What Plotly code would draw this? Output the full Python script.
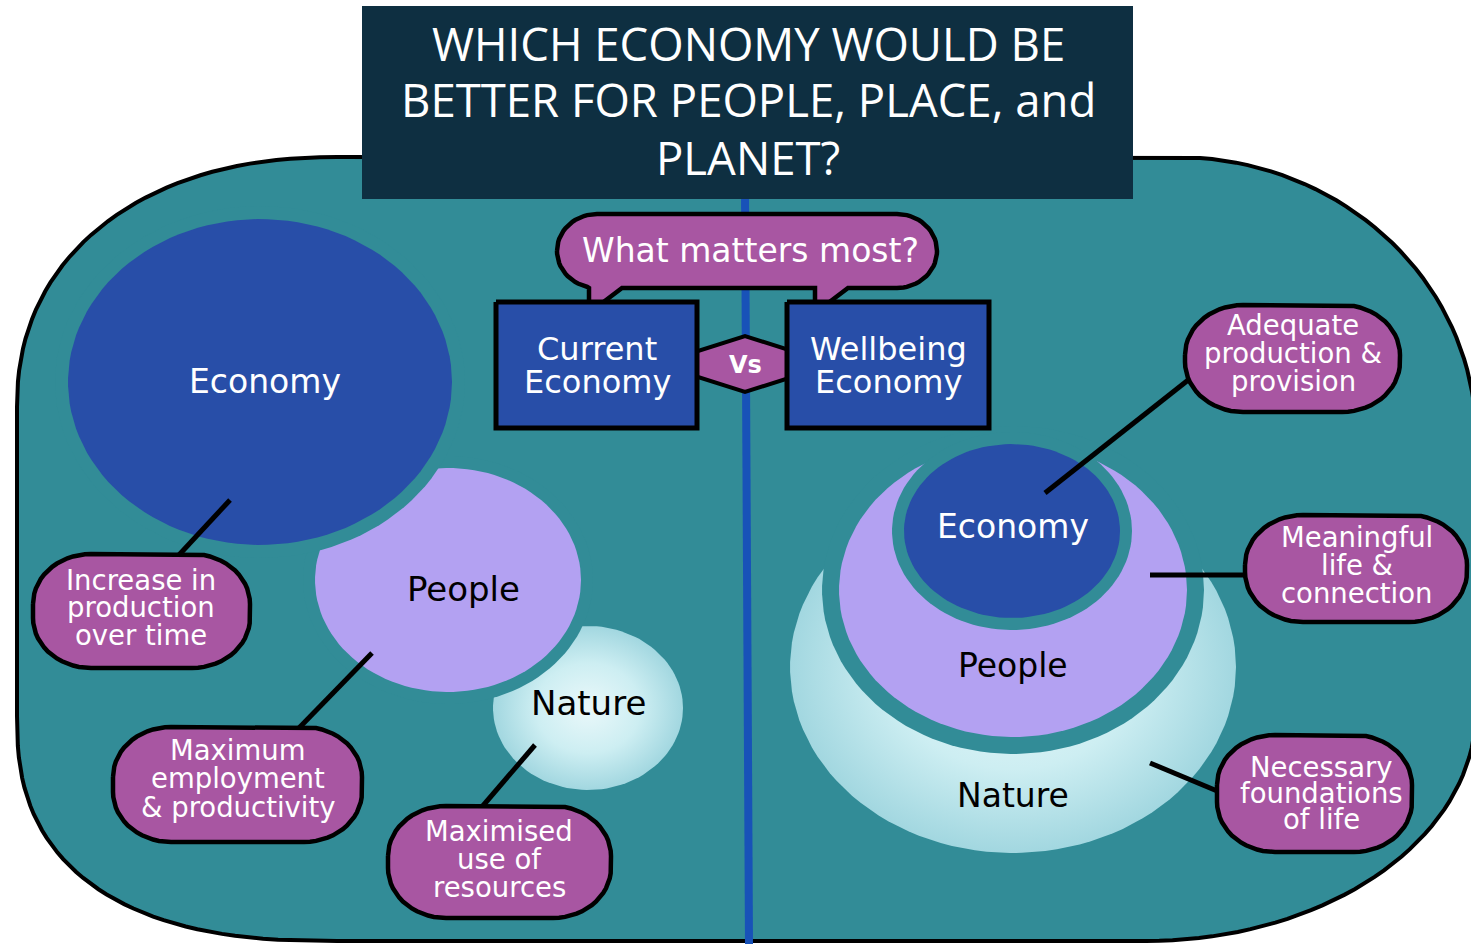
import numpy as np
import plotly.graph_objects as go

W, H = 1471, 944

# ---------------- colours ----------------
TEAL = "rgb(50,140,151)"
NAVY = "#0e2f41"
BLUE = "rgb(40,78,168)"
LAV = "rgb(179,161,242)"
PINK = "rgb(168,86,162)"
DIVIDER = "rgb(24,82,184)"
NATURE_SCALE = [[0, "#eaf8fa"], [0.55, "#cdeef2"], [1, "#a2d7e0"]]

# ---------------- text content ----------------
title_lines = ["WHICH ECONOMY WOULD BE", "BETTER FOR PEOPLE, PLACE, and", "PLANET?"]
title_baselines = [61, 117, 175]

question_text = "What matters most?"
box_labels = [["Current", "Economy"], ["Wellbeing", "Economy"]]
vs_text = "Vs"

left_labels = ["Economy", "People", "Nature"]
right_labels = ["Economy", "People", "Nature"]

callout_texts = [
    ["Increase in", "production", "over time"],
    ["Maximum", "employment", "& productivity"],
    ["Maximised", "use of", "resources"],
    ["Adequate", "production &", "provision"],
    ["Meaningful", "life &", "connection"],
    ["Necessary", "foundations", "of life"],
]

# ---------------- geometry ----------------
# panel corners: cx, cy, rx, ry, exponent, t0, t1
panel_corners = [
    (337, 407, 320, 250, 2.2, 180, 270),
    (1176, 437, 300, 280, 2.0, 270, 360),
    (1146, 711, 330, 230, 2.0, 0, 90),
    (337, 716, 320, 225, 2.5, 90, 180),
]
title_box = (362, 6, 1133, 199)
divider = ((745, 190), (749, 944))

# ellipses: cx, cy, rx, ry
left_economy = (260, 382, 192, 163)
left_people = (448, 580, 133, 112)
left_nature = (588, 708, 95, 82)
right_economy = (1012, 531, 108, 87)
right_people = (1013, 590, 174, 147)
right_nature = (1013, 667, 223, 186)
gap_left = [13, 12]
gap_right = [12, 17]
left_label_pos = [(265, 393), (463, 601), (588, 715)]
right_label_pos = [(1013, 538), (1013, 677), (1013, 807)]

# callout boxes x0, y0, x1, y1 ; text centre x ; baselines
callout_boxes = [
    (33, 554, 250, 668),
    (113, 727, 362, 842),
    (388, 806, 611, 918),
    (1185, 305, 1400, 412),
    (1245, 515, 1467, 622),
    (1217, 735, 1412, 852),
]
callout_cx = [141, 238, 499, 1293, 1357, 1321]
callout_baselines = [
    [590, 617, 645],
    [760, 788, 817],
    [841, 869, 897],
    [335, 363, 391],
    [547, 575, 603],
    [777, 803, 829],
]
connectors = [
    ((230, 500), (178, 556)),
    ((372, 653), (298, 729)),
    ((535, 745), (481, 808)),
    ((1045, 493), (1192, 377)),
    ((1150, 575), (1249, 575)),
    ((1150, 763), (1222, 793)),
]

bubble = (557, 214, 937, 288)
bubble_tails = [(589, 622, 313), (815, 848, 313)]
vs_diamond = [(657, 364), (745, 336), (833, 364), (745, 392)]
eco_boxes = [(496, 302, 697, 428), (787, 302, 989, 428)]
box_cx = [597, 888]
box_baselines = [360, 393]


# ---------------- helpers ----------------
def arc(cx, cy, rx, ry, t0, t1, n=2.0, k=30):
    t = np.radians(np.linspace(t0, t1, k))
    c, s = np.cos(t), np.sin(t)
    x = cx + rx * np.sign(c) * np.abs(c) ** (2 / n)
    y = cy + ry * np.sign(s) * np.abs(s) ** (2 / n)
    return list(x), list(y)


def ellipse(cx, cy, rx, ry):
    x, y = arc(cx, cy, rx, ry, 0, 360, 2.0, 120)
    return x, y


def rounded_rect(x0, y0, x1, y1, rx, ry):
    xs, ys = [], []
    for cx, cy, t0, t1 in [
        (x0 + rx, y0 + ry, 180, 270),
        (x1 - rx, y0 + ry, 270, 360),
        (x1 - rx, y1 - ry, 0, 90),
        (x0 + rx, y1 - ry, 90, 180),
    ]:
        x, y = arc(cx, cy, rx, ry, t0, t1, 2.0, 16)
        xs += x
        ys += y
    xs.append(xs[0])
    ys.append(ys[0])
    return xs, ys


fig = go.Figure()


def poly(x, y, fill, line_color=None, lw=0, gradient=None):
    kw = dict(
        x=x, y=y, mode="lines", fill="toself", fillcolor=fill,
        line=dict(color=line_color or fill, width=lw),
        hoverinfo="skip", showlegend=False,
    )
    if gradient is not None:
        kw["fillgradient"] = dict(type="radial", colorscale=gradient)
    fig.add_trace(go.Scatter(**kw))


def seg(p0, p1, color="black", lw=5):
    fig.add_trace(go.Scatter(
        x=[p0[0], p1[0]], y=[p0[1], p1[1]], mode="lines",
        line=dict(color=color, width=lw), hoverinfo="skip", showlegend=False))


# panel
px, py = [], []
for cx, cy, rx, ry, n, t0, t1 in panel_corners:
    x, y = arc(cx, cy, rx, ry, t0, t1, n, 40)
    px += x
    py += y
px.append(px[0])
py.append(py[0])
poly(px, py, TEAL, "black", 4)

# divider
seg(divider[0], divider[1], DIVIDER, 8)

# title box
tx0, ty0, tx1, ty1 = title_box
poly([tx0, tx1, tx1, tx0, tx0], [ty0, ty0, ty1, ty1, ty0], NAVY)

# left cluster
poly(*ellipse(*left_nature), "#c9ecf1", gradient=NATURE_SCALE)
cx, cy, rx, ry = left_people
poly(*ellipse(cx, cy, rx + gap_left[1], ry + gap_left[1]), TEAL)
poly(*ellipse(*left_people), LAV)
cx, cy, rx, ry = left_economy
poly(*ellipse(cx, cy, rx + gap_left[0], ry + gap_left[0]), TEAL)
poly(*ellipse(*left_economy), BLUE)

# right cluster
poly(*ellipse(*right_nature), "#c9ecf1", gradient=NATURE_SCALE)
cx, cy, rx, ry = right_people
poly(*ellipse(cx, cy, rx + gap_right[1], ry + gap_right[1]), TEAL)
poly(*ellipse(*right_people), LAV)
cx, cy, rx, ry = right_economy
poly(*ellipse(cx, cy, rx + gap_right[0], ry + gap_right[0]), TEAL)
poly(*ellipse(*right_economy), BLUE)

# connectors
for p0, p1 in connectors:
    seg(p0, p1, "black", 5)

# callouts
for (x0, y0, x1, y1) in callout_boxes:
    poly(*rounded_rect(x0, y0, x1, y1, 58, min(50, (y1 - y0) / 2)), PINK, "black", 4.5)

# speech bubble with two tails
bx0, by0, bx1, by1 = bubble
r_x, r_y = 40, (by1 - by0) / 2
bxs, bys = [], []
for cx, cy, t0, t1 in [(bx0 + r_x, by0 + r_y, 180, 270), (bx1 - r_x, by0 + r_y, 270, 360),
                       (bx1 - r_x, by1 - r_y, 0, 90)]:
    x, y = arc(cx, cy, r_x, r_y, t0, t1, 2.0, 20)
    bxs += x
    bys += y
for xl, xr, tip in sorted(bubble_tails, key=lambda t: -t[0]):
    bxs += [xr, xl, xl]
    bys += [by1, tip, by1]
x, y = arc(bx0 + r_x, by1 - r_y, r_x, r_y, 90, 180, 2.0, 20)
keep = [i for i in range(len(x)) if x[i] < min(t[0] for t in bubble_tails)]
bxs += [x[i] for i in keep]
bys += [y[i] for i in keep]
bxs.append(bxs[0])
bys.append(bys[0])
poly(bxs, bys, PINK, "black", 4.5)

# vs diamond
dx = [p[0] for p in vs_diamond] + [vs_diamond[0][0]]
dy = [p[1] for p in vs_diamond] + [vs_diamond[0][1]]
poly(dx, dy, PINK, "black", 4)

# economy boxes
for (x0, y0, x1, y1) in eco_boxes:
    poly([x0, x1, x1, x0, x0], [y0, y0, y1, y1, y0], BLUE, "black", 5)

# ---------------- text ----------------
ann = []
DV = "DejaVu Sans"


def text(s, x, baseline, size, color, family=DV, k=0.35, bold=False):
    ann.append(dict(
        x=x, y=baseline - k * size, xref="x", yref="y", text=f"<b>{s}</b>" if bold else s,
        showarrow=False, xanchor="center", yanchor="middle",
        font=dict(family=family, size=size, color=color)))


for line, b in zip(title_lines, title_baselines):
    text(line, 748, b, 45.5, "white", family="Open Sans", k=0.39)

text(question_text, 750, 262, 33, "white")
for labels, cx in zip(box_labels, box_cx):
    for s, b in zip(labels, box_baselines):
        text(s, cx, b, 32, "white")
text(vs_text, 745, 373, 24, "white", bold=True)

for s, (x, b), col in zip(left_labels, left_label_pos, ["white", "black", "black"]):
    text(s, x, b, 34 if col == "black" else 33, col)
for s, (x, b), col in zip(right_labels, right_label_pos, ["white", "black", "black"]):
    text(s, x, b, 33, col)

for lines, cx, bls in zip(callout_texts, callout_cx, callout_baselines):
    for s, b in zip(lines, bls):
        text(s, cx, b, 27.5, "white")

fig.update_layout(
    width=W, height=H, autosize=False,
    margin=dict(l=0, r=0, t=0, b=0),
    paper_bgcolor="white", plot_bgcolor="white",
    xaxis=dict(range=[0, W], visible=False, fixedrange=True),
    yaxis=dict(range=[H, 0], visible=False, fixedrange=True),
    annotations=ann,
    showlegend=False,
)

fig.write_html(
    "out.html",
    config={"displayModeBar": False},
    post_script="document.body.style.margin='0';document.body.style.overflow='hidden';",
)
